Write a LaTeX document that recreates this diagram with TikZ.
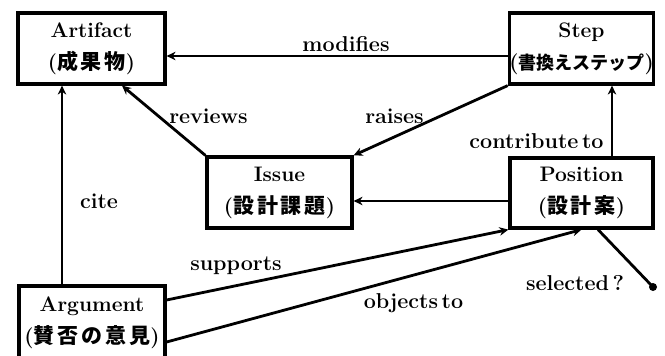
\documentclass[tikz,border=0pt]{standalone}
\usepackage{fontspec}
\setmainfont{Latin Modern Roman}
\newfontfamily\jpfont{Noto Sans CJK JP}[LetterSpace=14]
\newfontfamily\jpfontnarrow{Noto Sans CJK JP}
\usetikzlibrary{arrows.meta}

\newcommand{\jtext}[1]{{\jpfont\bfseries\fontsize{21}{27}\selectfont #1}}
\newcommand{\jtextnarrow}[1]{{\jpfontnarrow\bfseries\fontsize{18}{27}\selectfont #1}}

\tikzset{
  box/.style={draw, line width=3.2pt, inner sep=0pt, align=center,
              font=\bfseries\fontsize{21}{27}\selectfont},
  link/.style={line width=2.8pt},
  arr/.style={link, -{Stealth[length=9pt,width=8.5pt]}},
  lbl/.style={font=\bfseries\fontsize{21.5}{24}\selectfont, anchor=base, inner sep=0pt},
}

\begin{document}
\begin{tikzpicture}[x=1pt, y=-1pt]
  \useasboundingbox (0,0) rectangle (665,356);
  \fill[white] (0,0) rectangle (665,356);
  \clip (0,0) rectangle (665,356);

  % entity boxes
  \node[box, minimum width=147pt, minimum height=71pt] (artifact) at (91.5,48.5)
    {Artifact\\[5pt](\jtext{成果物})};
  \node[box, minimum width=143pt, minimum height=71pt] (step) at (581.5,48.5)
    {Step\\[5pt](\jtextnarrow{書換えステップ})};
  \node[box, minimum width=145pt, minimum height=71pt] (issue) at (279.5,192.5)
    {Issue\\[5pt](\jtext{設計課題})};
  \node[box, minimum width=143pt, minimum height=70pt] (position) at (581.5,193)
    {Position\\[5pt](\jtext{設計案})};
  \node[box, minimum width=146pt, minimum height=73pt] (argument) at (92,322.5)
    {Argument\\[5pt](\jtext{賛否の意見})};

  % end point of the "selected?" line
  \node[circle, fill, inner sep=0pt, minimum size=8pt] (selend) at (653,287) {};

  % connectors
  \draw[arr] ([yshift=-7.5pt]step.west) -- ([yshift=-7.5pt]artifact.east);
  \draw[arr] (issue.north west) -- ([xshift=30.5pt]artifact.south);
  \draw[arr] (step.south west) -- (issue.north east);
  \draw[arr] ([xshift=30.5pt]position.north) -- ([xshift=30.5pt]step.south);
  \draw[arr] ([yshift=-8pt]position.west) -- ([yshift=-8pt]position.west -| issue.east);
  \draw[arr] ([xshift=-30pt]argument.north) -- ([xshift=-30pt]argument.north |- artifact.south);
  \draw[arr] ([yshift=22.5pt]argument.east) -- (position.south west);
  \draw[arr] ([yshift=-19.5pt]argument.east) -- (position.south);
  \draw[link] ([xshift=16.5pt]position.south) -- (selend.center);

  % connector labels
  \node[lbl] (lmodifies) at (346,51) {modifies};
  \node[lbl] (lreviews) at (208.5,123) {reviews};
  \node[lbl] (lraises) at (394.5,123) {raises};
  \node[lbl] (lcontrib) at (536.5,148) {contribute\,to};
  \node[lbl] (lcite) at (99,208) {cite};
  \node[lbl] (lsupports) at (236,270) {supports};
  \node[lbl] (lobjects) at (413.5,308) {objects\,to};
  \node[lbl] (lselected) at (575,290) {selected\,?};
\end{tikzpicture}
\end{document}
